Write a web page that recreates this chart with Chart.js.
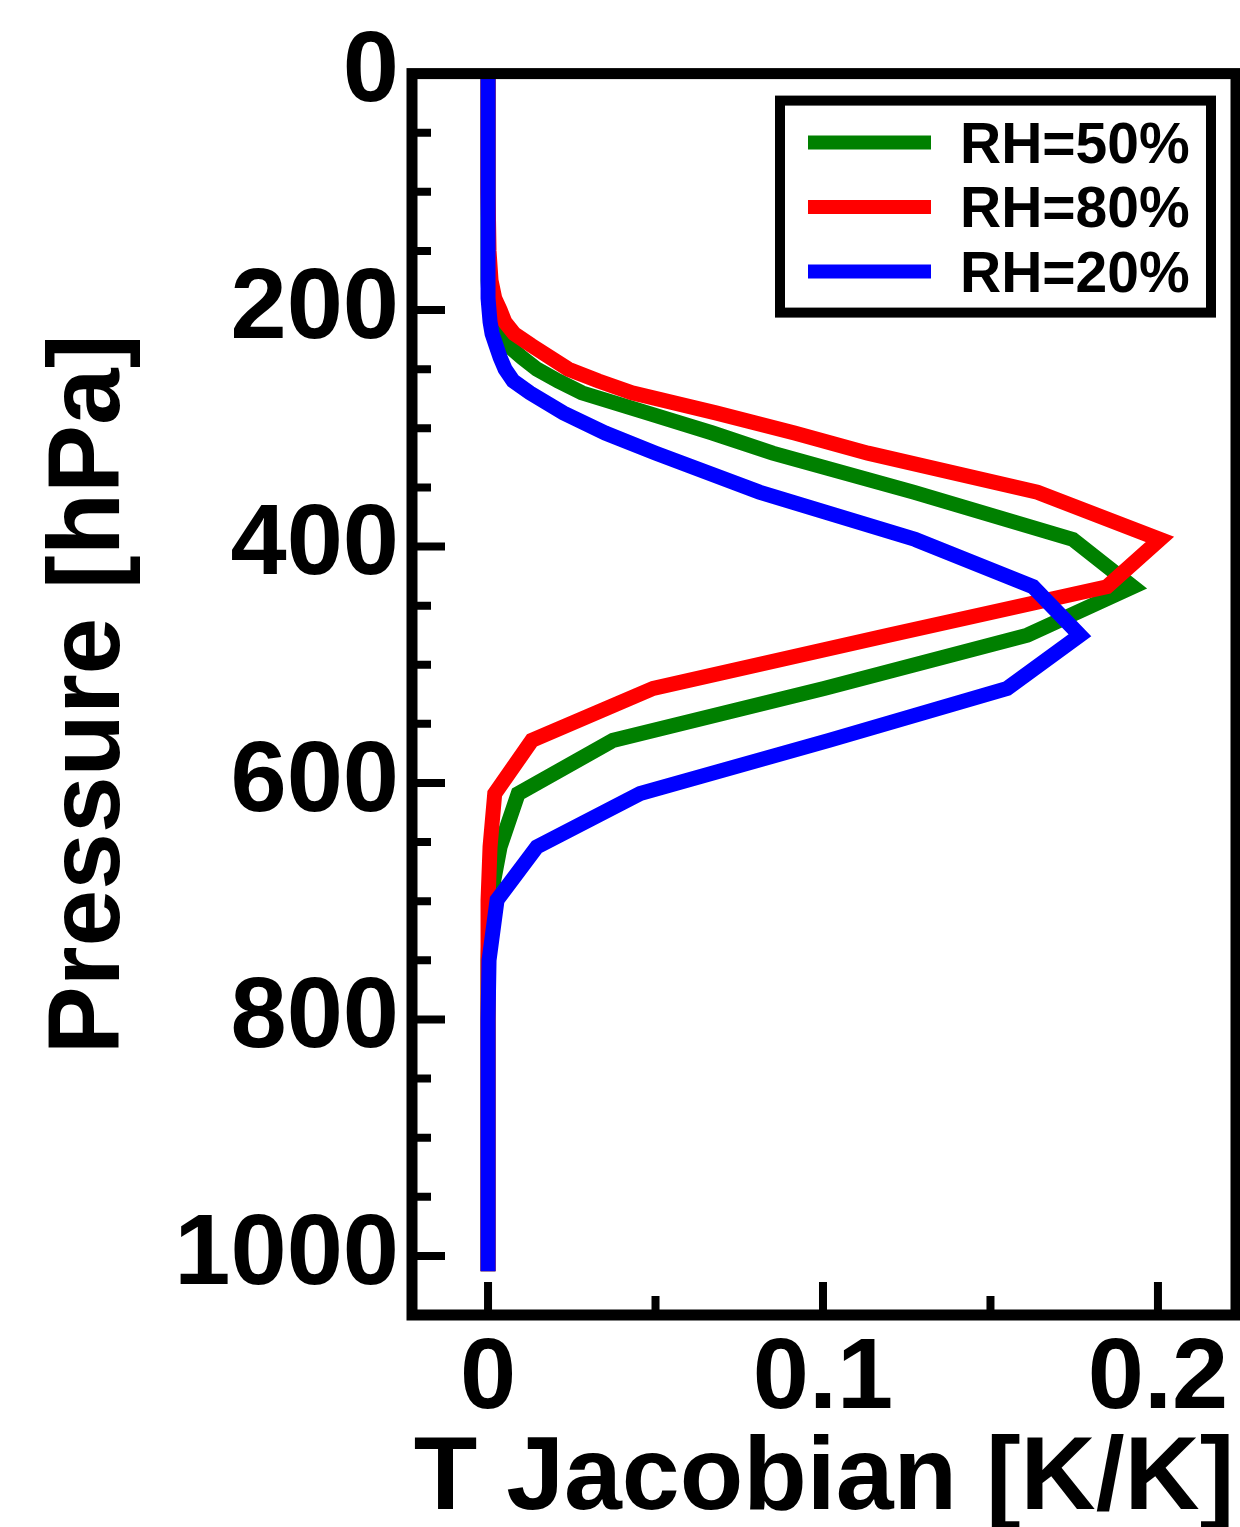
<!DOCTYPE html>
<html>
<head>
<meta charset="utf-8">
<script src="https://cdn.jsdelivr.net/npm/chart.js@4"></script>
<style>
  html, body { margin: 0; padding: 0; background: #fff; }
  #chart { display: block; }
</style>
</head>
<body>
<canvas id="chart" width="1240" height="1527"></canvas>
<script>
// pressure levels of the profiles [hPa]
const pressure = [0, 50, 100, 150, 175, 190, 200, 210, 220, 230, 240, 250, 260, 270, 287, 304, 321, 354, 394, 434, 475, 520, 564, 609, 654, 699, 750, 800, 850, 900, 950, 1013];

// temperature jacobians [K/K] at each level
const rh50 = [0, 0, 0, 0, 0, 0.0003, 0.0006, 0.0012, 0.0027, 0.006, 0.0101, 0.0146, 0.021, 0.028, 0.0475, 0.067, 0.085, 0.127, 0.1746, 0.1925, 0.161, 0.1003, 0.0373, 0.009, 0.0036, 0.0006, 0, 0, 0, 0, 0, 0];
const rh80 = [0, 0, 0, 0.0003, 0.0009, 0.002, 0.0036, 0.005, 0.0078, 0.013, 0.0185, 0.024, 0.033, 0.043, 0.068, 0.0915, 0.1134, 0.164, 0.2006, 0.1848, 0.1197, 0.0493, 0.0131, 0.002, 0.0006, 0, 0, 0, 0, 0, 0, 0];
const rh20 = [0, 0, 0, 0, 0, 0, 0.0003, 0.0006, 0.0012, 0.0024, 0.0036, 0.0051, 0.0075, 0.0125, 0.0225, 0.035, 0.05, 0.081, 0.1275, 0.1627, 0.1767, 0.155, 0.1018, 0.0454, 0.0146, 0.0027, 0.0003, 0, 0, 0, 0, 0];

const yTicks = [0, 200, 400, 600, 800, 1000];
const yMinorTicks = [50, 100, 150, 250, 300, 350, 450, 500, 550, 650, 700, 750, 850, 900, 950, 1050];
const xTicks = [0, 0.1, 0.2];
const xTickLabels = ['0', '0.1', '0.2'];
const xMinorTicks = [0.05, 0.15];

const FONT = '"Liberation Sans", Arial, Helvetica, sans-serif';

function profile(values) {
  return values.map((v, i) => ({ x: v, y: pressure[i] }));
}

// thick box round the plot, inward tick marks and the framed legend
const framePlugin = {
  id: 'frame',
  afterDraw(chart) {
    const { ctx, chartArea: a, scales } = chart;
    const xs = scales.x, ys = scales.y;
    ctx.save();
    ctx.strokeStyle = '#000';
    ctx.lineCap = 'butt';

    ctx.lineWidth = 8;
    ctx.beginPath();
    yTicks.forEach(v => {
      const y = ys.getPixelForValue(v);
      ctx.moveTo(a.left, y); ctx.lineTo(a.left + 33, y);
    });
    yMinorTicks.forEach(v => {
      const y = ys.getPixelForValue(v);
      if (y >= a.bottom - 4) return;
      ctx.moveTo(a.left, y); ctx.lineTo(a.left + 19, y);
    });
    xTicks.forEach(v => {
      const x = xs.getPixelForValue(v);
      ctx.moveTo(x, a.bottom); ctx.lineTo(x, a.bottom - 33);
    });
    xMinorTicks.forEach(v => {
      const x = xs.getPixelForValue(v);
      ctx.moveTo(x, a.bottom); ctx.lineTo(x, a.bottom - 19);
    });
    ctx.stroke();

    ctx.lineWidth = 11;
    ctx.lineJoin = 'miter';
    ctx.strokeRect(a.left, a.top, a.right - a.left, a.bottom - a.top);

    // legend
    const boxR = a.right - 25, boxL = boxR - 431;
    const boxT = a.top + 27, boxB = boxT + 212;
    ctx.fillStyle = '#fff';
    ctx.fillRect(boxL, boxT, boxR - boxL, boxB - boxT);
    ctx.lineWidth = 10;
    ctx.strokeRect(boxL, boxT, boxR - boxL, boxB - boxT);

    ctx.font = 'bold 57px ' + FONT;
    ctx.textBaseline = 'alphabetic';
    ctx.textAlign = 'left';
    chart.data.datasets.forEach((ds, i) => {
      const cy = boxT + 42 + i * 64.5;
      ctx.strokeStyle = ds.borderColor;
      ctx.lineWidth = 14;
      ctx.beginPath();
      ctx.moveTo(boxL + 28, cy); ctx.lineTo(boxL + 151, cy);
      ctx.stroke();
      ctx.fillStyle = '#000';
      ctx.fillText(ds.label, boxL + 180, cy + 20);
    });
    ctx.restore();
  }
};

const lineStyle = {
  borderWidth: 15,
  pointRadius: 0,
  tension: 0,
  fill: false,
  borderJoinStyle: 'miter',
  borderCapStyle: 'butt'
};

new Chart(document.getElementById('chart').getContext('2d'), {
  type: 'line',
  data: {
    datasets: [
      { label: 'RH=50%', data: profile(rh50), borderColor: '#008000', order: 3, ...lineStyle },
      { label: 'RH=80%', data: profile(rh80), borderColor: '#ff0000', order: 2, ...lineStyle },
      { label: 'RH=20%', data: profile(rh20), borderColor: '#0000ff', order: 1, ...lineStyle }
    ]
  },
  options: {
    responsive: false,
    animation: false,
    indexAxis: 'y',
    layout: { padding: { top: 73, right: 4, left: 0, bottom: 0 } },
    plugins: {
      legend: { display: false },
      tooltip: { enabled: false }
    },
    scales: {
      x: {
        type: 'linear',
        position: 'bottom',
        min: -0.0227,
        max: 0.2233,
        grid: { display: false, drawTicks: false },
        border: { display: false },
        afterBuildTicks: s => { s.ticks = xTicks.map(v => ({ value: v })); },
        afterFit: s => { s.height = 212; },
        ticks: {
          color: '#000',
          padding: 5,
          maxRotation: 0,
          autoSkip: false,
          font: { family: FONT, size: 101, weight: 'bold' },
          callback: (v, i) => xTickLabels[i]
        },
        title: {
          display: true,
          text: 'T Jacobian [K/K]',
          color: '#000',
          padding: { top: 0, bottom: 0 },
          font: { family: FONT, size: 104, weight: 'bold', lineHeight: 0.9 }
        }
      },
      y: {
        type: 'linear',
        position: 'left',
        reverse: true,
        min: 0,
        max: 1050,
        grid: { display: false, drawTicks: false },
        border: { display: false },
        afterBuildTicks: s => { s.ticks = yTicks.map(v => ({ value: v })); },
        afterFit: s => { s.width = 412; },
        ticks: {
          color: '#000',
          padding: 13,
          autoSkip: false,
          font: { family: FONT, size: 101, weight: 'bold' },
          callback: v => String(v)
        },
        title: {
          display: true,
          text: 'Pressure [hPa]',
          color: '#000',
          padding: { top: 40, bottom: 0 },
          font: { family: FONT, size: 102, weight: 'bold', lineHeight: 1 }
        }
      }
    }
  },
  plugins: [framePlugin]
});
</script>
</body>
</html>
